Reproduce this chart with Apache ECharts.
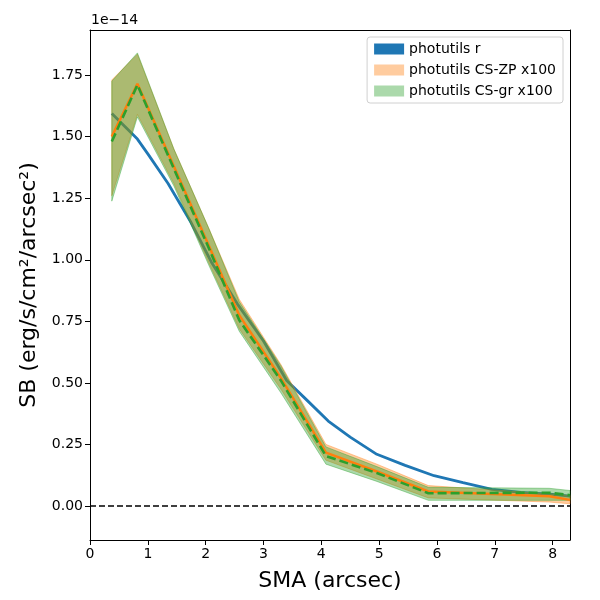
<!DOCTYPE html>
<html>
<head>
<meta charset="utf-8">
<script src="https://cdn.jsdelivr.net/npm/echarts@6/dist/echarts.min.js"></script>
<style>
  html, body { margin: 0; padding: 0; background: #fff; }
  #chart { width: 600px; height: 600px; }
</style>
</head>
<body>
<div id="chart"></div>
<script>
// surface brightness profiles, values in units of 1e-14
const rSma = [0.377, 0.82, 1.0, 1.35, 1.75, 2.1, 2.55, 3.0, 3.4, 3.75, 4.12, 4.5, 4.96, 5.45, 5.95, 6.45, 6.95, 7.45, 7.95, 8.3]
const rSb = [1.594, 1.49, 1.43, 1.31, 1.15, 0.99, 0.82, 0.67, 0.51, 0.43, 0.345, 0.28, 0.21, 0.165, 0.123, 0.095, 0.068, 0.055, 0.048, 0.04]

const csSma = [0.377, 0.82, 1.45, 2.05, 2.58, 3.3, 4.08, 4.96, 5.85, 7.94, 8.3]
const zpSb = [1.50, 1.715, 1.38, 1.06, 0.775, 0.52, 0.217, 0.140, 0.059, 0.040, 0.025]
const zpHi = [1.73, 1.835, 1.45, 1.13, 0.84, 0.575, 0.25, 0.17, 0.083, 0.05, 0.043]
const zpLo = [1.26, 1.59, 1.31, 0.99, 0.72, 0.475, 0.186, 0.11, 0.033, 0.016, 0.009]
const grSb = [1.48, 1.71, 1.37, 1.05, 0.755, 0.51, 0.203, 0.134, 0.052, 0.054, 0.044]
const grHi = [1.725, 1.84, 1.45, 1.13, 0.83, 0.57, 0.24, 0.16, 0.076, 0.072, 0.063]
const grLo = [1.238, 1.58, 1.30, 0.98, 0.71, 0.46, 0.17, 0.10, 0.023, 0.023, 0.023]

const xTicks = [0, 1, 2, 3, 4, 5, 6, 7, 8]
const yTicks = [0, 0.25, 0.5, 0.75, 1.0, 1.25, 1.5, 1.75]

const font = 'DejaVu Sans'

function band (name, lo, hi, fill, z) {
  return {
    name: name,
    type: 'custom',
    z: z,
    itemStyle: { color: fill },
    data: csSma.map((x, i) => [x, lo[i], hi[i]]),
    encode: { x: 0, y: [1, 2] },
    renderItem (params, api) {
      if (params.dataIndex !== 0) return
      const pts = []
      for (let i = 0; i < csSma.length; i++) pts.push(api.coord([csSma[i], hi[i]]))
      for (let i = csSma.length - 1; i >= 0; i--) pts.push(api.coord([csSma[i], lo[i]]))
      return {
        type: 'polygon',
        shape: { points: pts },
        style: { fill: fill, stroke: fill, lineWidth: 1 }
      }
    }
  }
}

const frame = { show: true, onZero: false, lineStyle: { color: '#000', width: 1 } }

const chart = echarts.init(document.getElementById('chart'))
chart.setOption({
  animation: false,
  backgroundColor: '#fff',
  textStyle: { fontFamily: font },
  grid: { left: 90, right: 30, top: 30, bottom: 60 },
  legend: {
    right: 37,
    top: 37,
    orient: 'vertical',
    icon: 'rect',
    itemWidth: 30,
    itemHeight: 11,
    itemGap: 7,
    padding: [5, 7],
    borderColor: '#d0d0d0',
    borderWidth: 1,
    borderRadius: 3,
    textStyle: { fontFamily: font, fontSize: 14, color: '#000' },
    data: ['photutils r', 'photutils CS-ZP x100', 'photutils CS-gr x100']
  },
  graphic: [{
    type: 'text',
    left: 91,
    top: 13,
    style: { text: '1e\u221214', fontFamily: font, fontSize: 14, fill: '#000' }
  }],
  xAxis: [{
    type: 'value',
    min: 0,
    max: 8.3,
    name: 'SMA (arcsec)',
    nameLocation: 'middle',
    nameGap: 30,
    nameTextStyle: { fontFamily: font, fontSize: 22, color: '#000' },
    axisLine: frame,
    axisTick: { length: 5, customValues: xTicks, lineStyle: { color: '#000' } },
    axisLabel: { customValues: xTicks, color: '#000', fontSize: 14, margin: 7 },
    splitLine: { show: false }
  }, {
    type: 'value',
    position: 'top',
    min: 0,
    max: 8.3,
    axisLine: frame,
    axisTick: { show: false },
    axisLabel: { show: false },
    splitLine: { show: false }
  }],
  yAxis: [{
    type: 'value',
    min: -0.138,
    max: 1.933,
    name: 'SB (erg/s/cm\u00b2/arcsec\u00b2)',
    nameLocation: 'middle',
    nameRotate: 90,
    nameGap: 50,
    nameTextStyle: { fontFamily: font, fontSize: 22, color: '#000' },
    axisLine: frame,
    axisTick: { show: true, length: 5, customValues: yTicks, lineStyle: { color: '#000' } },
    axisLabel: { customValues: yTicks, color: '#000', fontSize: 14, margin: 7, formatter: v => v.toFixed(2) },
    splitLine: { show: false }
  }, {
    type: 'value',
    position: 'right',
    min: -0.138,
    max: 1.933,
    axisLine: frame,
    axisTick: { show: false },
    axisLabel: { show: false },
    splitLine: { show: false }
  }],
  series: [
    {
      name: 'photutils r',
      type: 'line',
      z: 1,
      showSymbol: false,
      itemStyle: { color: '#1f77b4' },
      lineStyle: { color: '#1f77b4', width: 2.8 },
      data: rSma.map((x, i) => [x, rSb[i]]),
      markLine: {
        silent: true,
        symbol: 'none',
        label: { show: false },
        lineStyle: { color: '#000', type: [6, 3], width: 1.5 },
        data: [{ yAxis: 0 }]
      }
    },
    band('photutils CS-ZP x100', zpLo, zpHi, 'rgba(255,127,14,0.4)', 2),
    band('photutils CS-gr x100', grLo, grHi, 'rgba(44,160,44,0.4)', 3),
    {
      name: 'zp line',
      type: 'line',
      z: 4,
      showSymbol: false,
      lineStyle: { color: '#ff7f0e', width: 2.5 },
      data: csSma.map((x, i) => [x, zpSb[i]])
    },
    {
      name: 'gr line',
      type: 'line',
      z: 5,
      showSymbol: false,
      lineStyle: { color: '#2ca02c', width: 2.6, type: [9, 4] },
      data: csSma.map((x, i) => [x, grSb[i]])
    }
  ]
})
</script>
</body>
</html>
